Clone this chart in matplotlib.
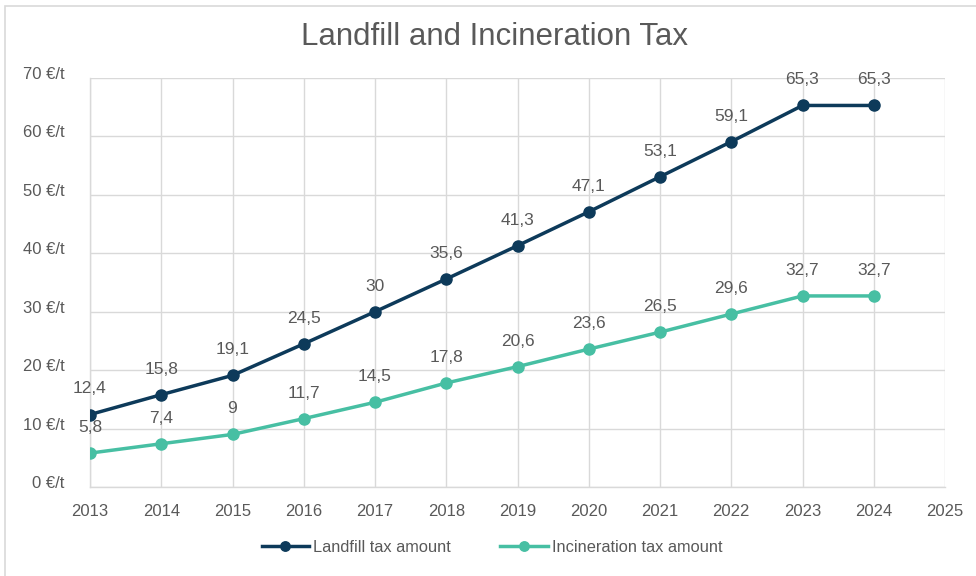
import matplotlib
matplotlib.use("Agg")
import matplotlib.pyplot as plt
from matplotlib.patches import Rectangle
from matplotlib.transforms import ScaledTranslation

years = [2013, 2014, 2015, 2016, 2017, 2018, 2019, 2020, 2021, 2022, 2023, 2024]
landfill = [12.4, 15.8, 19.1, 24.5, 30, 35.6, 41.3, 47.1, 53.1, 59.1, 65.3, 65.3]
incineration = [5.8, 7.4, 9, 11.7, 14.5, 17.8, 20.6, 23.6, 26.5, 29.6, 32.7, 32.7]
landfill_labels = ["12,4", "15,8", "19,1", "24,5", "30", "35,6", "41,3", "47,1", "53,1", "59,1", "65,3", "65,3"]
incin_labels = ["5,8", "7,4", "9", "11,7", "14,5", "17,8", "20,6", "23,6", "26,5", "29,6", "32,7", "32,7"]
x_ticks = list(range(2013, 2026))
y_ticks = [0, 10, 20, 30, 40, 50, 60, 70]

plt.rcParams['font.family'] = ['Liberation Sans', 'DejaVu Sans']
TXT = '#595959'
NAVY = '#0d3a5a'
TEAL = '#47bfa3'
GRID = '#d9d9d9'

fig = plt.figure(figsize=(9.76, 5.76), dpi=100)
fig.patches.append(Rectangle((5/976, -0.05), 1.1, 1 - 6/576 + 0.05, transform=fig.transFigure,
                             fill=False, edgecolor='#d9d9d9', linewidth=1.2))
ax = fig.add_axes([90/976, 89/576, 855/976, 409/576])

ax.plot(years, landfill, color=NAVY, lw=2.5, marker='o', ms=8, label='Landfill tax amount', zorder=3)
ax.plot(years, incineration, color=TEAL, lw=2.5, marker='o', ms=8, label='Incineration tax amount', zorder=3)

for x, y, s in zip(years, landfill, landfill_labels):
    ax.annotate(s, (x, y), xytext=(0, 13), textcoords='offset points', ha='center', va='bottom',
                fontsize=12.5, color=TXT)
for x, y, s in zip(years, incineration, incin_labels):
    ax.annotate(s, (x, y), xytext=(0, 13), textcoords='offset points', ha='center', va='bottom',
                fontsize=12.5, color=TXT)

ax.set_xlim(2013, 2025)
ax.set_ylim(0, 70)
ax.set_xticks(x_ticks)
ax.set_xticklabels([str(v) for v in x_ticks])
ax.set_yticks(y_ticks)
ax.set_yticklabels([f"{v} €/t" for v in y_ticks])
ax.tick_params(axis='both', length=0, labelsize=12, labelcolor=TXT)
ax.tick_params(axis='y', pad=18.5)
ax.tick_params(axis='x', pad=12)
up = ScaledTranslation(0, 5/100, fig.dpi_scale_trans)
for lab in ax.get_yticklabels():
    lab.set_transform(lab.get_transform() + up)
ax.grid(True, color=GRID, lw=1)
ax.set_axisbelow(True)
for sp in ['top', 'right']:
    ax.spines[sp].set_visible(False)
for sp in ['left', 'bottom']:
    ax.spines[sp].set_color(GRID)
    ax.spines[sp].set_linewidth(1)

fig.text(494/976, 1 - 37/576, 'Landfill and Incineration Tax', ha='center', va='center',
         fontsize=22.5, color=TXT)

leg = fig.legend(loc='center', bbox_to_anchor=(492/976, 1 - 547/576), ncol=2, frameon=False,
                 fontsize=11.8, labelcolor=TXT, handlelength=2.9, columnspacing=3.0, handletextpad=0.25,
                 markerscale=0.85)

fig.savefig('out.png', dpi=100)
